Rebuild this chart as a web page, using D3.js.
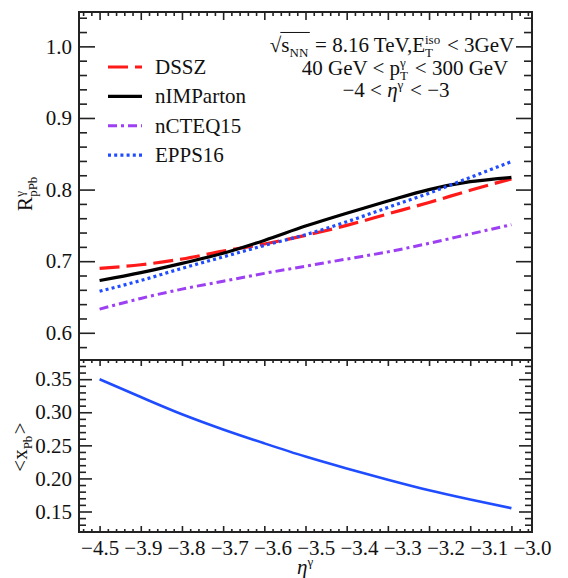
<!DOCTYPE html>
<html>
<head>
<meta charset="utf-8">
<script src="https://cdn.jsdelivr.net/npm/d3@7"></script>
<style>
  html, body { margin: 0; padding: 0; background: #fff; }
  svg { display: block; }
  .tick line { stroke: #222; stroke-width: 1.6; }
  .rich text { white-space: pre; }
</style>
</head>
<body>
<div id="chart"></div>
<script>
// pseudorapidity points
const eta = [-4.0, -3.9, -3.8, -3.7, -3.6, -3.5, -3.4, -3.3, -3.2, -3.1, -3.0];

// R_pPb^gamma per nPDF set
const dssz      = [0.690, 0.695, 0.703, 0.714, 0.724, 0.736, 0.750, 0.766, 0.782, 0.799, 0.815];
const nimparton = [0.673, 0.684, 0.697, 0.711, 0.729, 0.749, 0.767, 0.784, 0.800, 0.811, 0.817];
const ncteq15   = [0.633, 0.648, 0.661, 0.672, 0.683, 0.693, 0.703, 0.713, 0.725, 0.738, 0.751];
const epps16    = [0.658, 0.673, 0.690, 0.706, 0.722, 0.737, 0.755, 0.775, 0.795, 0.817, 0.839];

// <x_Pb> in the lower panel
const xPb = [0.350, 0.323, 0.297, 0.274, 0.253, 0.233, 0.215, 0.198, 0.182, 0.168, 0.155];

// tick labels as printed on the figure (first one really reads -4.5)
const xTickLabels = ['\u22124.5', '\u22123.9', '\u22123.8', '\u22123.7', '\u22123.6', '\u22123.5',
                     '\u22123.4', '\u22123.3', '\u22123.2', '\u22123.1', '\u22123.0'];
const yTopTicks = [0.6, 0.7, 0.8, 0.9, 1.0];
const yBotTicks = [0.15, 0.20, 0.25, 0.30, 0.35];

const series = [
  { name: 'DSSZ',      values: dssz,      color: '#ff1a1a', dash: '20,7',      width: 3.2 },
  { name: 'nIMParton', values: nimparton, color: '#000000', dash: null,        width: 3.2 },
  { name: 'nCTEQ15',   values: ncteq15,   color: '#9d3ff2', dash: '9,4,3,4',   width: 3.0 },
  { name: 'EPPS16',    values: epps16,    color: '#1f4cff', dash: '3,3.2',     width: 3.2 },
];

const W = 568, H = 578;
const L = 79, R = 532, T = 12, M = 360, B = 532;
const FS = 21;
const SERIF = '"Liberation Serif", "Times New Roman", "DejaVu Serif", serif';

const svg = d3.select('#chart').append('svg').attr('width', W).attr('height', H)
  .attr('font-family', SERIF);

const x = d3.scaleLinear().domain([-4.05, -2.95]).range([L, R]);
const yTop = d3.scaleLinear().domain([0.562, 1.048]).range([M, T]);
const yBot = d3.scaleLinear().domain([0.119, 0.379]).range([B, M]);
// printed labels are spread evenly from the first major tick to the right frame
const xLab = d3.scalePoint().domain(xTickLabels).range([x(-4.0), R]);

const xMajor = d3.range(11).map(i => -4.0 + i * 0.1);
const xMinor = d3.range(-4.04, -2.955, 0.02).filter(v => Math.abs(Math.round(v * 10) - v * 10) > 1e-6);
const yTopMinor = d3.range(0.58, 1.045, 0.02).filter(v => Math.abs(Math.round(v * 10) - v * 10) > 1e-6);
const yBotMinor = d3.range(0.12, 0.3795, 0.01).filter(v => Math.abs(Math.round(v * 20) - v * 20) > 1e-6);

function noDomain(g) { g.select('.domain').remove(); }
function serifText(g) {
  g.attr('font-family', SERIF).attr('font-size', FS);
  g.selectAll('text').attr('fill', '#111');
}

function ticks(axisFn, scale, vals, size, tx, ty) {
  svg.append('g')
    .attr('transform', `translate(${tx},${ty})`)
    .call(axisFn(scale).tickValues(vals).tickSize(size).tickFormat(''))
    .call(noDomain);
}

// ---- top panel ticks
ticks(d3.axisLeft, yTop, yTopTicks, -16, L, 0);
ticks(d3.axisLeft, yTop, yTopMinor, -8, L, 0);
ticks(d3.axisRight, yTop, yTopTicks, -16, R, 0);
ticks(d3.axisRight, yTop, yTopMinor, -8, R, 0);
ticks(d3.axisTop, x, xMajor, -8, 0, T);
ticks(d3.axisTop, x, xMinor, -4, 0, T);

svg.append('g')
  .attr('transform', `translate(${L},0)`)
  .call(d3.axisLeft(yTop).tickValues(yTopTicks).tickSize(0).tickPadding(7).tickFormat(d3.format('.1f')))
  .call(noDomain)
  .call(serifText);

// ---- bottom panel ticks
ticks(d3.axisLeft, yBot, yBotTicks, -13, L, 0);
ticks(d3.axisLeft, yBot, yBotMinor, -7, L, 0);
ticks(d3.axisRight, yBot, yBotTicks, -13, R, 0);
ticks(d3.axisRight, yBot, yBotMinor, -7, R, 0);
ticks(d3.axisTop, x, xMajor, -6, 0, M);
ticks(d3.axisTop, x, xMinor, -3, 0, M);
ticks(d3.axisBottom, x, xMajor, -6, 0, B);
ticks(d3.axisBottom, x, xMinor, -3, 0, B);

svg.append('g')
  .attr('transform', `translate(${L},0)`)
  .call(d3.axisLeft(yBot).tickValues(yBotTicks).tickSize(0).tickPadding(7).tickFormat(d3.format('.2f')))
  .call(noDomain)
  .call(serifText);

svg.append('g')
  .attr('transform', `translate(0,${B})`)
  .call(d3.axisBottom(xLab).tickSize(0).tickPadding(8))
  .call(noDomain)
  .call(serifText);

// ---- curves
const lineTop = d3.line().x((d, i) => x(eta[i])).y(d => yTop(d)).curve(d3.curveMonotoneX);
const lineBot = d3.line().x((d, i) => x(eta[i])).y(d => yBot(d)).curve(d3.curveMonotoneX);

series.forEach(s => {
  svg.append('path')
    .attr('d', lineTop(s.values))
    .attr('fill', 'none')
    .attr('stroke', s.color)
    .attr('stroke-width', s.width)
    .attr('stroke-dasharray', s.dash);
});

svg.append('path')
  .attr('d', lineBot(xPb))
  .attr('fill', 'none')
  .attr('stroke', '#1f4cff')
  .attr('stroke-width', 2.6);

// ---- frames
[[T, M], [M, B]].forEach(([a, b]) => {
  svg.append('rect').attr('x', L).attr('y', a).attr('width', R - L).attr('height', b - a)
    .attr('fill', 'none').attr('stroke', '#222').attr('stroke-width', 2);
});

// ---- legend
const legend = svg.append('g');
series.forEach((s, i) => {
  const yy = 67 + i * 29.4;
  legend.append('line').attr('x1', 108).attr('x2', 142).attr('y1', yy).attr('y2', yy)
    .attr('stroke', s.color).attr('stroke-width', s.width).attr('stroke-dasharray', s.dash);
  legend.append('text').attr('x', 155).attr('y', yy + 7).attr('font-size', FS).attr('fill', '#111').text(s.name);
});

// ---- rich text helper: normal runs plus stacked sub/superscripts
function rich(parent, parts, size) {
  const g = parent.append('g').attr('class', 'rich');
  const ss = Math.round(size * 0.6);
  const marks = [];
  let cx = 0;
  parts.forEach(p => {
    if (p.mark) { marks.push(cx); return; }
    if (p.t != null) {
      const t = g.append('text').attr('x', cx).attr('font-size', size).attr('fill', '#111')
        .attr('font-style', p.it ? 'italic' : null).text(p.t);
      cx += t.node().getComputedTextLength();
      return;
    }
    let w = 0;
    if (p.sup) {
      const t = g.append('text').attr('x', cx).attr('y', -size * 0.4).attr('font-size', ss).attr('fill', '#111').text(p.sup);
      w = Math.max(w, t.node().getComputedTextLength());
    }
    if (p.sub) {
      const t = g.append('text').attr('x', cx).attr('y', size * 0.25).attr('font-size', ss).attr('fill', '#111').text(p.sub);
      w = Math.max(w, t.node().getComputedTextLength());
    }
    cx += w + 1.5;
  });
  if (marks.length === 2) {
    g.append('line').attr('x1', marks[0] - 1).attr('x2', marks[1]).attr('y1', -size * 0.93).attr('y2', -size * 0.93)
      .attr('stroke', '#111').attr('stroke-width', 1);
  }
  return { g, width: cx };
}

function placeCentered(parts, size, cx, baseline) {
  const r = rich(svg, parts, size);
  r.g.attr('transform', `translate(${cx - r.width / 2},${baseline})`);
}

const AS = 21;
placeCentered([{ t: '\u221A' }, { mark: 1 }, { t: 's' }, { sub: 'NN' }, { mark: 1 },
  { t: ' = 8.16 TeV,E' }, { sub: 'T', sup: 'iso' }, { t: ' < 3GeV' }], AS, 392, 52);
placeCentered([{ t: '40 GeV < p' }, { sub: 'T', sup: '\u03B3' }, { t: ' < 300 GeV' }], AS, 405, 75);
placeCentered([{ t: '\u22124 < ' }, { t: '\u03B7', it: true }, { sup: '\u03B3' }, { t: ' < \u22123' }], AS, 396, 97);

// ---- axis titles
{
  const r = rich(svg, [{ t: 'R' }, { sub: 'pPb', sup: '\u03B3' }], FS);
  r.g.attr('transform', `translate(32,${193 + r.width / 2}) rotate(-90)`);
}
{
  const r = rich(svg, [{ t: '<x' }, { sub: 'Pb' }, { t: '>' }], FS);
  r.g.attr('transform', `translate(27,${447 + r.width / 2}) rotate(-90)`);
}
{
  const r = rich(svg, [{ t: '\u03B7', it: true }, { sup: '\u03B3' }], FS);
  r.g.attr('transform', `translate(297,574)`);
}
</script>
</body>
</html>
